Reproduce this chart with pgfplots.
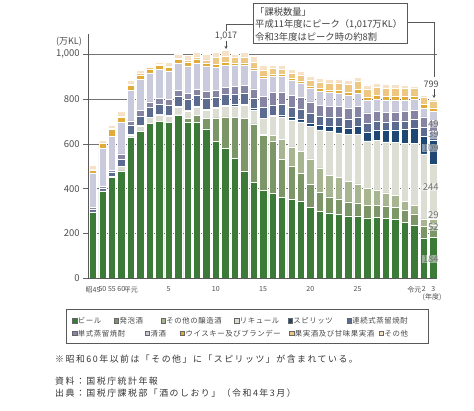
\documentclass[border=0pt]{standalone}
\usepackage{fontspec}
\setmainfont{Noto Sans CJK JP}
\newfontfamily\trackfont[LetterSpace=17]{Noto Sans CJK JP}
\newfontfamily\legfont[LetterSpace=8]{Noto Sans CJK JP}
\usepackage{pgfplots}
\usepackage{pgfplotstable}
\pgfplotsset{compat=1.18}
\usetikzlibrary{arrows.meta}

\definecolor{cB}{HTML}{3C7A37}
\definecolor{cH}{HTML}{7C9668}
\definecolor{cO}{HTML}{A8B591}
\definecolor{cL}{HTML}{DCDDD3}
\definecolor{cS}{HTML}{1E4873}
\definecolor{cR}{HTML}{5C6C91}
\definecolor{cT}{HTML}{8585A3}
\definecolor{cK}{HTML}{C9CBDC}
\definecolor{cW}{HTML}{E2AA37}
\definecolor{cF}{HTML}{EEC882}
\definecolor{cX}{HTML}{F6E2C6}

% B=beer H=happoshu O=other brewed L=liqueur S=spirits R=continuous shochu
% T=single shochu K=sake W=whisky F=fruit wine X=other
\pgfplotstableread{
x  B   H   O   L   S   R  T  K   W  F  X
0  293 0   0   3   0   12 8  155 13 2  17
1  387 0   0   3   0   12 8  170 22 3  10
2  451 0   0   5   0   17 9  150 33 5  11
3  480 0   0   18  0   32 25 140 22 8  19
4  628 0   0   10  3   40 22 135 22 6  19
5  655 0   0   25  3   42 23 140 20 6  16
6  692 0   0   25  3   43 24 130 18 5  7
7  702 0   0   27  3   45 25 130 17 5  12
8  695 0   0   28  3   46 26 128 16 6  17
9  730 2   0   30  4   47 27 122 15 7  18
10 695 20  0   32  4   47 28 122 15 10 21
11 696 32  0   35  4   48 29 118 14 12 22
12 667 47  0   38  4   48 29 112 13 17 25
13 612 104 0   42  4   48 30 103 12 30 22
14 580 141 0   48  5   48 31 98  12 27 27
15 535 183 0   52  5   48 33 95  11 24 12
16 478 235 0   58  5   48 36 91  10 24 24
17 429 260 0   63  5   48 40 85  9  25 25
18 392 245 6   70  3   47 50 82  9  26 22
19 380 232 25  85  5   47 55 74  9  24 16
20 362 169 90  100 8   46 56 70  9  24 18
21 352 150 85  120 10  45 54 67  9  24 17
22 343 125 100 130 12  44 54 64  9  25 17
23 318 100 115 145 14  43 52 62  9  27 18
24 300 85  108 170 18  42 50 63  11 28 18
25 292 72  96  195 24  42 48 60  12 31 18
26 284 70  95  200 28  42 47 60  13 33 18
27 279 62  90  210 30  41 46 60  13 36 19
28 279 58  85  222 34  42 46 62  14 37 18
29 270 55  78  210 40  40 45 57  14 36 18
30 272 55  68  220 45  40 44 56  15 37 18
31 268 55  58  228 50  39 43 55  16 37 18
32 263 54  52  238 55  39 42 53  17 36 17
33 250 52  40  260 62  39 42 51  17 34 16
34 236 52  38  275 68  39 41 48  17 34 10
35 180 52  33  290 80  40 45 40  17 31 10
36 184 52  29  244 109 39 49 38  17 31 7
}\sakeTable

\newcommand{\legitem}[4]{%
  \fill[#3, draw=black!60, line width=0.35pt] ({#1},{#2-2.3}) rectangle ({#1+4.6},{#2+2.3});
  \node[anchor=west, inner sep=0pt, font=\legfont\fontsize{7.4}{9}\selectfont, text=black!72] at ({#1+5.4},{#2}) {#4};}

\begin{document}
\begin{tikzpicture}
\useasboundingbox (-88.3pt,-131.7pt) rectangle (385.7pt,278.3pt);
\begin{axis}[
  at={(0pt,0pt)}, anchor=south west,
  scale only axis, width=348.7pt, height=244.2pt,
  xmin=-0.5, xmax=36.4, ymin=0, ymax=1090,
  ybar stacked, bar width=0.78,
  axis x line=bottom, axis y line=left,
  axis line style={-, draw=black!65, line width=0.8pt},
  ytick={0,200,400,600,800,1000},
  yticklabel style={font=\fontsize{9.5}{10}\selectfont, text=black!70,
    /pgf/number format/1000 sep={,}, /pgf/number format/assume math mode=true},
  xtick={0,1,2,3,4,8,13,18,23,28,34,35,36},
  xticklabels={昭45,50,55,60,平元,5,10,15,20,25,令元,2,3},
  xticklabel style={font=\fontsize{7}{8}\selectfont, text=black!70},
  xtick style={draw=none},
  ytick style={draw=black!60, line width=0.6pt},
  tick align=outside, major tick length=5pt,
  ymajorgrids, grid style={draw=black!55, line width=0.5pt},
  clip=false,
]
\addplot[fill=cB, draw=white, line width=0.5pt] table[x=x,y=B]{\sakeTable};
\addplot[fill=cH, draw=white, line width=0.5pt] table[x=x,y=H]{\sakeTable};
\addplot[fill=cO, draw=white, line width=0.5pt] table[x=x,y=O]{\sakeTable};
\addplot[fill=cL, draw=white, line width=0.5pt] table[x=x,y=L]{\sakeTable};
\addplot[fill=cS, draw=white, line width=0.5pt] table[x=x,y=S]{\sakeTable};
\addplot[fill=cR, draw=white, line width=0.5pt] table[x=x,y=R]{\sakeTable};
\addplot[fill=cT, draw=white, line width=0.5pt] table[x=x,y=T]{\sakeTable};
\addplot[fill=cK, draw=white, line width=0.5pt] table[x=x,y=K]{\sakeTable};
\addplot[fill=cW, draw=white, line width=0.5pt] table[x=x,y=W]{\sakeTable};
\addplot[fill=cF, draw=white, line width=0.5pt] table[x=x,y=F]{\sakeTable};
\addplot[fill=cX, draw=white, line width=0.5pt] table[x=x,y=X]{\sakeTable};
\end{axis}

\begin{scope}[shift={(-88.3pt,278.3pt)}, x=1pt, y=-1pt]
  \draw[black!65, line width=0.8pt] (88.3,278.3) -- (437,278.3);
  % value labels at last bar
  \begin{scope}[every node/.style={anchor=east, inner sep=0.6pt, fill=white, fill opacity=0.45, text opacity=1, font=\fontsize{9.5}{10}\selectfont, text=black!55}]
  \node at (439.5,124) {49};
  \node at (439.5,134.5) {39};
  \node at (439.5,148) {109};
  \node at (439.5,187) {244};
  \node at (439.5,215) {29};
  \node at (439.5,227) {52};
  \node at (439.5,259) {184};
  \end{scope}
  \node[font=\fontsize{9}{10}\selectfont, text=black!70] at (69,41.5) {(万KL)};
  \node[font=\fontsize{7}{8}\selectfont, text=black!70] at (432,297) {(年度)};
  % annotation box
  \draw[black!65, line width=0.7pt, fill=white] (253,3.5) rectangle (407,43);
  \node[anchor=west, align=left, inner sep=0pt, font=\fontsize{9.3}{12.5}\selectfont, text=black!75] at (255,24) {「課税数量」\\平成11年度にピーク（1,017万KL）\\令和3年度はピーク時の約8割};
  \draw[black!65, line width=0.7pt] (253,24) -- (226,24) -- (226,31);
  \node[font=\fontsize{9}{10}\selectfont, text=black!70] at (226,36.5) {1,017};
  \draw[black!70, line width=0.6pt, -{Stealth[length=3pt,width=3pt]}] (226,41.5) -- (226,49);
  \draw[black!65, line width=0.7pt] (407,22) -- (434,22) -- (434,77);
  \node[font=\fontsize{9}{10}\selectfont, text=black!70] at (431,84) {799};
  \draw[black!70, line width=0.6pt, -{Stealth[length=3pt,width=3pt]}] (434,89.5) -- (434,98);
  % legend
  \draw[black!65, line width=0.6pt] (66,309.3) rectangle (428,343.3);
  \legitem{72.3}{320.6}{cB}{ビール}
  \legitem{114}{320.6}{cH}{発泡酒}
  \legitem{160.7}{320.6}{cO}{その他の醸造酒}
  \legitem{234.3}{320.6}{cL}{リキュール}
  \legitem{287.7}{320.6}{cS}{スピリッツ}
  \legitem{346.7}{320.6}{cR}{連続式蒸留焼酎}
  \legitem{72.3}{333.3}{cT}{単式蒸留焼酎}
  \legitem{145}{333.3}{cK}{清酒}
  \legitem{180}{333.3}{cW}{ウイスキー及びブランデー}
  \legitem{289.3}{333.3}{cF}{果実酒及び甘味果実酒}
  \legitem{379}{333.3}{cX}{その他}
  % notes
  \begin{scope}[every node/.style={anchor=west, inner sep=0pt, font=\trackfont\fontsize{8.9}{11}\selectfont, text=black!80}]
  \node at (55,359.5) {※昭和60年以前は「その他」に「スピリッツ」が含まれている。};
  \node at (55,381) {資料：国税庁統計年報};
  \node at (55,393) {出典：国税庁課税部「酒のしおり」（令和4年3月）};
  \end{scope}
\end{scope}
\end{tikzpicture}
\end{document}
